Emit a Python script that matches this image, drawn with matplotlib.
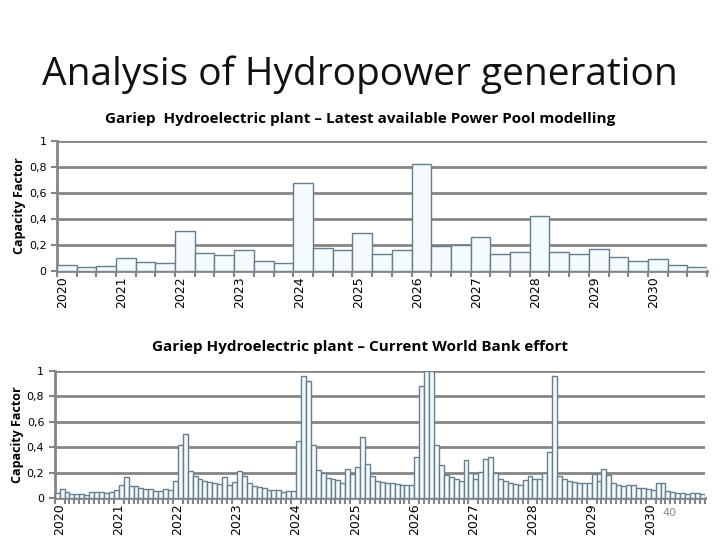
import matplotlib
matplotlib.use("Agg")
import matplotlib.pyplot as plt
import numpy as np

years = [str(y) for y in range(2020, 2031)]
top_vals = [0.05, 0.03, 0.04, 0.10, 0.07, 0.06, 0.31, 0.14, 0.12, 0.16, 0.08, 0.06,
            0.68, 0.18, 0.165, 0.29, 0.13, 0.16, 0.82, 0.19, 0.20, 0.26, 0.13, 0.15,
            0.42, 0.15, 0.135, 0.17, 0.105, 0.075, 0.09, 0.045, 0.035]
bot_vals = [0.04, 0.07, 0.05, 0.03, 0.03, 0.03, 0.02, 0.05, 0.045, 0.05, 0.04, 0.045,
            0.06, 0.10, 0.165, 0.095, 0.09, 0.075, 0.07, 0.07, 0.055, 0.055, 0.07, 0.06,
            0.13, 0.42, 0.50, 0.21, 0.17, 0.15, 0.135, 0.125, 0.115, 0.11, 0.165, 0.105,
            0.125, 0.215, 0.175, 0.12, 0.09, 0.085, 0.075, 0.065, 0.06, 0.06, 0.05, 0.055,
            0.055, 0.45, 0.96, 0.92, 0.415, 0.22, 0.20, 0.16, 0.15, 0.14, 0.12, 0.23,
            0.19, 0.24, 0.48, 0.27, 0.175, 0.135, 0.125, 0.12, 0.115, 0.11, 0.105, 0.10,
            0.10, 0.32, 0.88, 1.0, 1.0, 0.42, 0.26, 0.18, 0.165, 0.145, 0.13, 0.30,
            0.20, 0.15, 0.205, 0.31, 0.32, 0.20, 0.15, 0.13, 0.115, 0.11, 0.10, 0.14,
            0.17, 0.145, 0.15, 0.20, 0.36, 0.96, 0.17, 0.145, 0.13, 0.125, 0.12, 0.115,
            0.115, 0.19, 0.13, 0.23, 0.18, 0.115, 0.105, 0.09, 0.10, 0.10, 0.08, 0.075,
            0.07, 0.065, 0.12, 0.12, 0.055, 0.045, 0.04, 0.04, 0.03, 0.04, 0.035, 0.03]
yticks = [0, 0.2, 0.4, 0.6, 0.8, 1]
ytick_labels = ["0", "0,2", "0,4", "0,6", "0,8", "1"]

fig = plt.figure(figsize=(7.2, 5.4), dpi=100)
fig.text(0.5, 0.843, "Analysis of Hydropower generation", ha="center", fontsize=28,
         family="Open Sans", color="#111111")

def panel(rect, vals, per_year, title, title_y):
    ax = fig.add_axes(rect)
    n = len(vals)
    x = np.arange(n)
    ax.bar(x, vals, width=1.0, align="edge", facecolor="#f5fafd", edgecolor="#667f8e", linewidth=1.0, zorder=3)
    ax.set_xlim(0, n)
    ax.set_ylim(0, 1)
    ax.set_yticks(yticks)
    ax.set_yticklabels(ytick_labels, fontsize=8, family="DejaVu Sans")
    ax.yaxis.grid(True, color="#858585", linewidth=2, zorder=0)
    ax.set_axisbelow(True)
    ax.set_xticks(np.arange(0, len(years)) * per_year + (0.3 if per_year == 3 else 1.0))
    ax.set_xticklabels(years, rotation=90, fontsize=9, family="DejaVu Sans")
    ax.tick_params(axis="x", length=0, pad=4)
    ax.set_xticks(np.arange(0, n + 1), minor=True)
    ax.tick_params(axis="x", which="minor", length=4, width=1.5, color="#858585", direction="out")
    ax.tick_params(axis="y", length=4, width=1.5, color="#858585")
    for s in ["top", "right"]:
        ax.spines[s].set_visible(False)
    ax.spines["left"].set_color("#858585"); ax.spines["left"].set_linewidth(2)
    ax.spines["bottom"].set_color("#858585"); ax.spines["bottom"].set_linewidth(2)
    ax.set_ylabel("Capacity Factor", fontsize=9, fontweight="bold", family="Open Sans", labelpad=2)
    fig.text(0.5, title_y, title, ha="center", fontsize=11, fontweight="bold", family="Open Sans")
    return ax

panel([0.079, 0.498, 0.903, 0.241], top_vals, 3,
      "Gariep  Hydroelectric plant \u2013 Latest available Power Pool modelling", 0.773)
panel([0.076, 0.078, 0.903, 0.235], bot_vals, 12,
      "Gariep Hydroelectric plant \u2013 Current World Bank effort", 0.350)
fig.text(0.93, 0.045, "40", fontsize=8, color="#888888", ha="center")
fig.savefig("out.png", dpi=100)
